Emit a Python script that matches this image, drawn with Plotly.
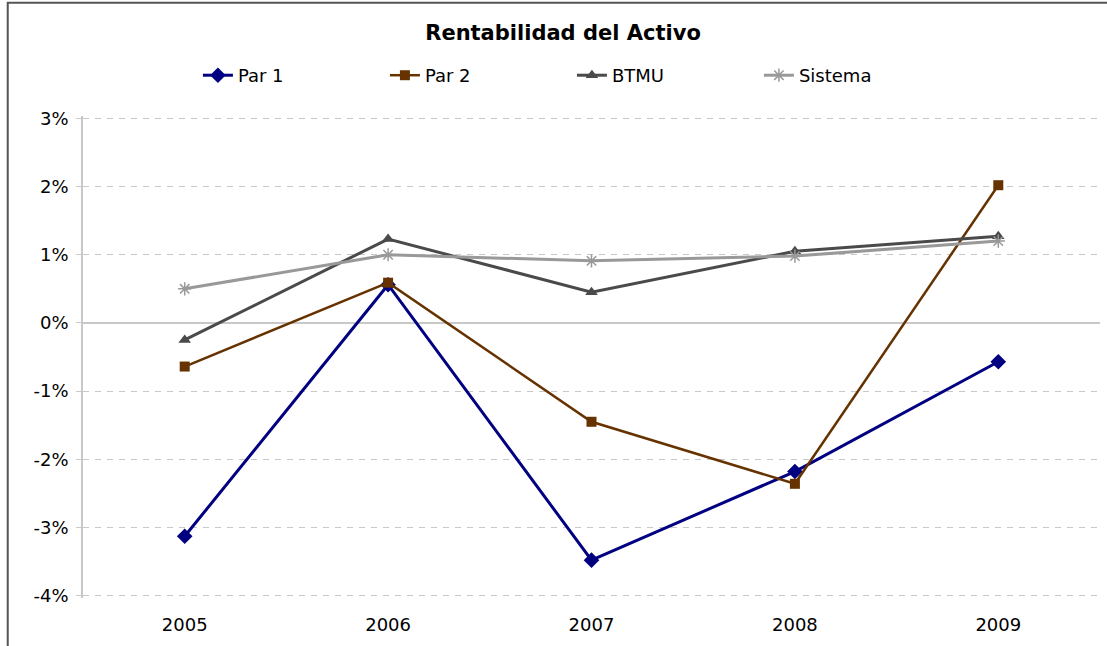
import plotly.graph_objects as go

years = ["2005", "2006", "2007", "2008", "2009"]
par1 = [-3.13, 0.56, -3.48, -2.18, -0.57]
par2 = [-0.64, 0.59, -1.45, -2.36, 2.02]
btmu = [-0.25, 1.23, 0.45, 1.05, 1.27]
sistema = [0.50, 1.00, 0.91, 0.98, 1.20]

y_ticks = [-4, -3, -2, -1, 0, 1, 2, 3]
y_labels = ["-4%", "-3%", "-2%", "-1%", "0%", "1%", "2%", "3%"]

FONT = "DejaVu Sans"

fig = go.Figure()
fig.add_trace(go.Scatter(x=years, y=par1, name="Par 1", mode="lines+markers",
                         line=dict(color="#000080", width=3),
                         marker=dict(symbol="diamond", size=12, color="#000080")))
fig.add_trace(go.Scatter(x=years, y=par2, name="Par 2", mode="lines+markers",
                         line=dict(color="#663300", width=2.5),
                         marker=dict(symbol="square", size=10, color="#663300")))
fig.add_trace(go.Scatter(x=years, y=btmu, name="BTMU", mode="lines+markers",
                         line=dict(color="#4a4a4a", width=3),
                         marker=dict(symbol="triangle-up", size=11, color="#4a4a4a")))
fig.add_trace(go.Scatter(x=years, y=sistema, name="Sistema", mode="lines+markers",
                         line=dict(color="#999999", width=3),
                         marker=dict(symbol="asterisk-open", size=11,
                                     line=dict(color="#999999", width=1.5))))

fig.update_layout(
    width=1107, height=646,
    margin=dict(l=83, r=7, t=116, b=48),
    paper_bgcolor="white", plot_bgcolor="white",
    font=dict(family=FONT, size=18, color="#000000"),
    title=dict(text="<b>Rentabilidad del Activo</b>", x=0.472, xref="paper",
               y=0.95, yanchor="middle", xanchor="center",
               font=dict(family=FONT, size=21, color="#000000")),
    legend=dict(orientation="h", x=0.113, xanchor="left", y=1.084, yanchor="middle",
                entrywidth=142, entrywidthmode="pixels",
                font=dict(family=FONT, size=18), bgcolor="rgba(0,0,0,0)"),
    shapes=[dict(type="rect", xref="paper", yref="paper",
                 x0=-0.074, x1=1.2, y0=-0.3, y1=1.235,
                 line=dict(color="#555555", width=2), layer="below")],
)
fig.update_xaxes(range=[-0.5, 4.5], showgrid=False, showline=False, ticks="",
                 ticklabelstandoff=14, tickfont=dict(size=18))
fig.update_yaxes(range=[-4.035, 3.035], tickvals=y_ticks, ticktext=y_labels,
                 showgrid=True, gridcolor="#c8c8c8", griddash="6px,6px", gridwidth=1,
                 zeroline=True, zerolinecolor="#c8c8c8", zerolinewidth=1.5,
                 showline=True, linecolor="#c8c8c8", linewidth=1.5,
                 ticks="outside", ticklen=5, tickcolor="#c8c8c8",
                 ticklabelstandoff=4, tickfont=dict(size=18))

fig.write_html("out.html", config={"displayModeBar": False},
               post_script="document.body.style.margin='0';")
